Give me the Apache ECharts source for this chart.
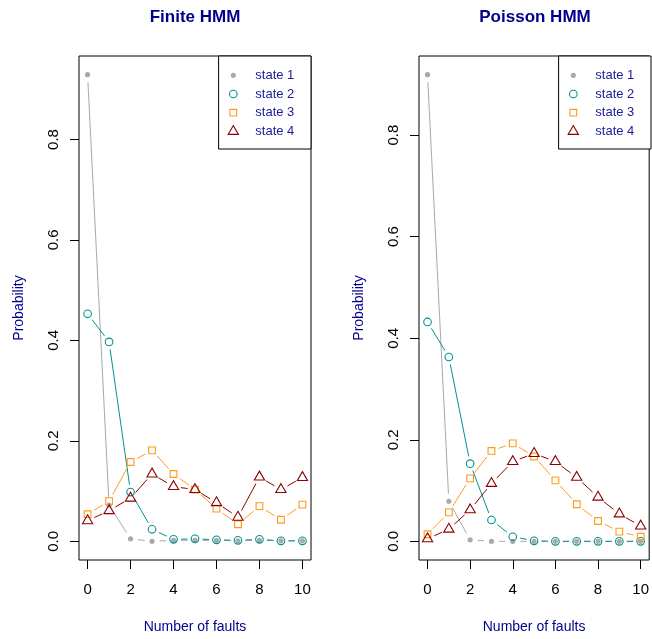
<!DOCTYPE html>
<html>
<head>
<meta charset="utf-8">
<script src="https://cdn.jsdelivr.net/npm/echarts@6/dist/echarts.min.js"></script>
<style>
html,body{margin:0;padding:0;background:#fff;}
#chart{width:652px;height:639px;}
</style>
</head>
<body>
<div id="chart"></div>
<script>
// ---------------- data ----------------
const faults = [0, 1, 2, 3, 4, 5, 6, 7, 8, 9, 10];
const xTicks = [0, 2, 4, 6, 8, 10];
const yTicks = [0, 0.2, 0.4, 0.6, 0.8];
const stateNames = ['state 1', 'state 2', 'state 3', 'state 4'];
const panelTitles = ['Finite HMM', 'Poisson HMM'];
const xTitle = 'Number of faults';
const yTitle = 'Probability';

const finiteState1 = [0.929, 0.072, 0.005, 0.000, 0.002, 0.002, 0.002, 0.001, 0.002, 0.001, 0.001];
const finiteState2 = [0.453, 0.397, 0.098, 0.024, 0.004, 0.005, 0.003, 0.002, 0.004, 0.001, 0.001];
const finiteState3 = [0.054, 0.080, 0.158, 0.181, 0.134, 0.103, 0.065, 0.034, 0.070, 0.043, 0.073];
const finiteState4 = [0.041, 0.061, 0.086, 0.134, 0.109, 0.103, 0.077, 0.048, 0.128, 0.103, 0.127];

const poissonState1 = [0.919, 0.079, 0.003, 0.000, 0.000, 0.000, 0.000, 0.000, 0.000, 0.000, 0.000];
const poissonState2 = [0.432, 0.363, 0.153, 0.042, 0.009, 0.001, 0.000, 0.000, 0.000, 0.000, 0.000];
const poissonState3 = [0.014, 0.057, 0.124, 0.178, 0.193, 0.167, 0.120, 0.073, 0.040, 0.019, 0.009];
const poissonState4 = [0.005, 0.024, 0.062, 0.114, 0.157, 0.173, 0.157, 0.126, 0.087, 0.054, 0.030];

// ---------------- styles / layout ----------------
const FONT = '"Liberation Sans", Arial, Helvetica, sans-serif';
const TITLE_COLOR = '#00008B';
const LEGEND_TEXT_COLOR = '#1a1a9a';
const stateColors = ['#A9A9A9', '#009191', '#FF9A1A', '#8B0000'];
const stateShapes = ['dot', 'circle', 'square', 'triangle'];
const R = 3.8;        // symbol radius
const GAP = 7.5;      // gap around points for type "b" lines
const GRID_TOP = 56, GRID_H = 509, GRID_W = 232;
const GRID_LEFTS = [79, 419];

const panels = [
  [finiteState1, finiteState2, finiteState3, finiteState4],
  [poissonState1, poissonState2, poissonState3, poissonState4]
];

function markerEl(shape, cx, cy, color) {
  if (shape === 'dot') {
    return {type: 'circle', shape: {cx: cx, cy: cy, r: R * 0.68}, style: {fill: color, stroke: null}};
  }
  if (shape === 'circle') {
    return {type: 'circle', shape: {cx: cx, cy: cy, r: R}, style: {fill: null, stroke: color, lineWidth: 1.1}};
  }
  if (shape === 'square') {
    const h = R * 0.886;
    return {type: 'rect', shape: {x: cx - h, y: cy - h, width: 2 * h, height: 2 * h}, style: {fill: null, stroke: color, lineWidth: 1.1}};
  }
  return {type: 'polygon', shape: {points: [[cx, cy - 1.555 * R], [cx + 1.347 * R, cy + 0.778 * R], [cx - 1.347 * R, cy + 0.778 * R]]},
          style: {fill: null, stroke: color, lineWidth: 1.1}};
}

function makeRender(shape, color) {
  return function (params, api) {
    const p = api.coord([api.value(0), api.value(1)]);
    const q = api.coord([api.value(2), api.value(3)]);
    const children = [];
    const dx = q[0] - p[0], dy = q[1] - p[1];
    const L = Math.sqrt(dx * dx + dy * dy);
    if (L > 2 * GAP) {
      const ux = dx / L, uy = dy / L;
      children.push({
        type: 'line',
        shape: {x1: p[0] + ux * GAP, y1: p[1] + uy * GAP, x2: q[0] - ux * GAP, y2: q[1] - uy * GAP},
        style: {stroke: color, lineWidth: 1}
      });
    }
    children.push(markerEl(shape, p[0], p[1], color));
    return {type: 'group', children: children};
  };
}

const grids = [], xAxes = [], yAxes = [], series = [], titles = [], graphics = [];

panels.forEach(function (states, pi) {
  const left = GRID_LEFTS[pi];
  let maxV = 0;
  states.forEach(function (arr) { arr.forEach(function (v) { if (v > maxV) maxV = v; }); });
  grids.push({left: left, top: GRID_TOP, width: GRID_W, height: GRID_H, show: true,
              borderColor: '#000', borderWidth: 1, backgroundColor: 'transparent', containLabel: false});
  xAxes.push({
    type: 'value', gridIndex: pi, min: -0.4, max: 10.4, position: 'bottom',
    axisLine: {show: false, onZero: false},
    axisTick: {show: true, inside: false, length: 9, lineStyle: {color: '#000', width: 1}, customValues: xTicks},
    axisLabel: {show: true, margin: 22, fontSize: 15, color: '#000', fontFamily: FONT, customValues: xTicks},
    splitLine: {show: false},
    name: xTitle, nameLocation: 'middle', nameGap: 60,
    nameTextStyle: {fontSize: 14, color: TITLE_COLOR, fontFamily: FONT}
  });
  yAxes.push({
    type: 'value', gridIndex: pi, min: -0.04 * maxV, max: 1.04 * maxV, position: 'left',
    axisLine: {show: false, onZero: false},
    axisTick: {show: true, inside: false, length: 9, lineStyle: {color: '#000', width: 1}, customValues: yTicks},
    axisLabel: {show: true, rotate: 90, margin: 18, fontSize: 15, color: '#000', fontFamily: FONT,
                customValues: yTicks, formatter: function (v) { return v.toFixed(1); }},
    splitLine: {show: false},
    name: yTitle, nameLocation: 'middle', nameGap: 53, nameRotate: 90,
    nameTextStyle: {fontSize: 14, color: TITLE_COLOR, fontFamily: FONT}
  });
  states.forEach(function (arr, si) {
    const data = faults.map(function (x, i) {
      const j = Math.min(i + 1, faults.length - 1);
      return [x, arr[i], faults[j], arr[j]];
    });
    series.push({
      type: 'custom', name: stateNames[si], xAxisIndex: pi, yAxisIndex: pi,
      coordinateSystem: 'cartesian2d', encode: {x: 0, y: 1},
      renderItem: makeRender(stateShapes[si], stateColors[si]),
      data: data, z: 2 + si, silent: true
    });
  });
  titles.push({
    text: panelTitles[pi], left: left + GRID_W / 2, top: 9, textAlign: 'center', padding: 0,
    textStyle: {fontSize: 17, fontWeight: 'bold', color: TITLE_COLOR, fontFamily: FONT}
  });

  // legend box (top-right inside panel)
  const LW = 92.4, LH = 93;
  const lx = left + GRID_W - LW, ly = GRID_TOP;
  const children = [{type: 'rect', shape: {x: 0, y: 0, width: LW, height: LH},
                     style: {fill: '#fff', stroke: '#000', lineWidth: 1}}];
  stateNames.forEach(function (nm, si) {
    const cy = 19.3 + si * 18.7;
    children.push(markerEl(stateShapes[si], 14.7, cy, stateColors[si]));
    children.push({type: 'text', x: 36.7, y: cy,
                   style: {text: nm, fill: LEGEND_TEXT_COLOR, fontSize: 13, fontFamily: FONT,
                           verticalAlign: 'middle', align: 'left'}});
  });
  graphics.push({type: 'group', x: lx, y: ly, z: 100, children: children});
});

const chart = echarts.init(document.getElementById('chart'), null, {renderer: 'canvas'});
chart.setOption({
  animation: false,
  backgroundColor: '#fff',
  title: titles,
  grid: grids,
  xAxis: xAxes,
  yAxis: yAxes,
  series: series,
  graphic: graphics
});
</script>
</body>
</html>
